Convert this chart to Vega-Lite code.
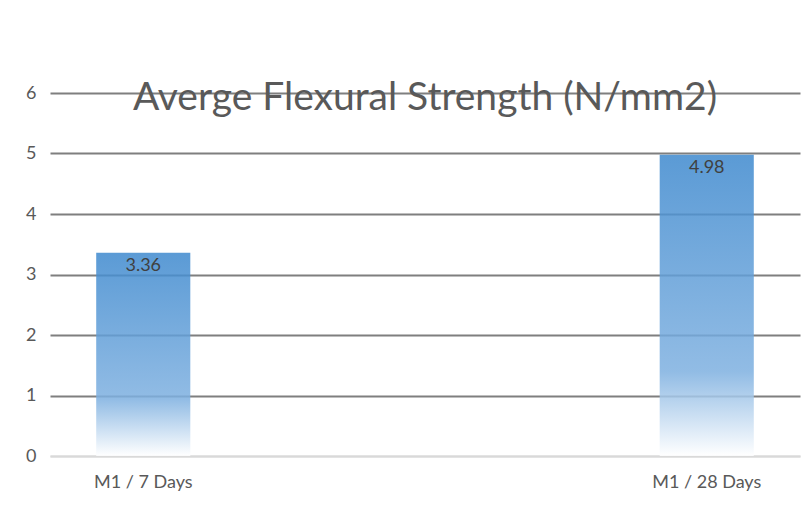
{
  "$schema": "https://vega.github.io/schema/vega-lite/v6.json",
  "width": 750,
  "height": 363,
  "autosize": "none",
  "padding": {"left": 50, "top": 93, "right": 9, "bottom": 67},
  "background": "white",
  "config": {"view": {"stroke": null}, "font": "Lato"},
  "title": {
    "text": "Averge Flexural Strength (N/mm2)",
    "font": "Lato",
    "fontSize": 39,
    "fontWeight": "normal",
    "color": "#595959",
    "anchor": "middle",
    "offset": -34
  },
  "data": {
    "values": [
      {"sample": "M1 / 7 Days", "strength": 3.36},
      {"sample": "M1 / 28 Days", "strength": 4.98}
    ]
  },
  "encoding": {
    "x": {
      "field": "sample",
      "type": "nominal",
      "sort": null,
      "scale": {"paddingInner": 0.833, "paddingOuter": 0.082},
      "axis": {
        "title": null,
        "labelAngle": 0,
        "domain": true,
        "domainColor": "#d9d9d9",
        "domainWidth": 2,
        "ticks": false,
        "labelPadding": 17,
        "labelColor": "#595959",
        "labelFontSize": 18,
        "labelFont": "Lato"
      }
    },
    "y": {
      "field": "strength",
      "type": "quantitative",
      "scale": {"domain": [0, 6], "nice": false},
      "axis": {
        "title": null,
        "values": [0, 1, 2, 3, 4, 5, 6],
        "domain": false,
        "ticks": false,
        "grid": true,
        "gridColor": {"condition": {"test": "datum.value === 0", "value": "#d9d9d9"}, "value": "#7f7f7f"},
        "gridWidth": 2,
        "labelPadding": 14,
        "labelColor": "#595959",
        "labelFontSize": 18,
        "labelFont": "Lato"
      }
    }
  },
  "layer": [
    {
      "mark": {
        "type": "bar",
        "fillOpacity": 0.85,
        "color": {
          "gradient": "linear",
          "x1": 0, "y1": 0, "x2": 0, "y2": 1,
          "stops": [
            {"offset": 0, "color": "#3e89ce"},
            {"offset": 0.72, "color": "#7eb0e0"},
            {"offset": 1, "color": "#ffffff"}
          ]
        }
      }
    },
    {
      "mark": {
        "type": "text",
        "baseline": "top",
        "dy": 4,
        "fontSize": 18,
        "font": "Lato",
        "color": "#404040"
      },
      "encoding": {"text": {"field": "strength", "type": "quantitative", "format": ".2f"}}
    }
  ]
}
